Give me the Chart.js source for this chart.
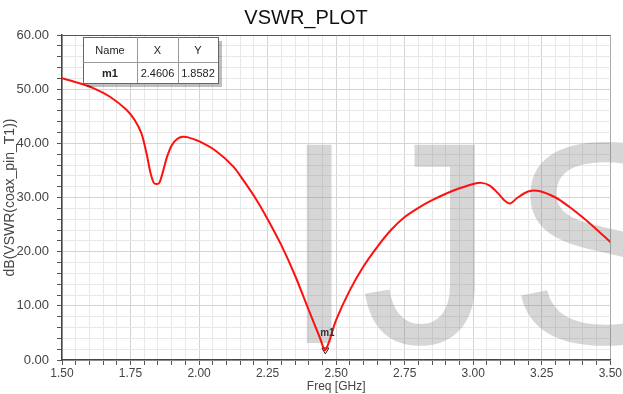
<!DOCTYPE html>
<html>
<head>
<meta charset="utf-8">
<script src="https://cdn.jsdelivr.net/npm/chart.js@4/dist/chart.umd.min.js"></script>
<style>
  html, body { margin: 0; padding: 0; background: #fff; }
  #wrap { width: 623px; height: 394px; }
</style>
</head>
<body>
<div id="wrap"><canvas id="myChart" width="623" height="394"></canvas></div>
<script>
// values
var freqGHz = [1.50, 1.55, 1.614, 1.675, 1.735, 1.765, 1.79, 1.808, 1.823, 1.835, 1.845, 1.855, 1.87, 1.883, 1.901, 1.92,
               1.94, 1.96, 2.003, 2.064, 2.125, 2.16, 2.209, 2.25, 2.30, 2.35, 2.40, 2.44, 2.4606, 2.50, 2.55, 2.60,
               2.65, 2.70, 2.75, 2.80, 2.85, 2.90, 2.95, 3.00, 3.03, 3.06, 3.09, 3.115, 3.135, 3.16, 3.20, 3.24,
               3.30, 3.35, 3.40, 3.45, 3.50];
var vswrDb  = [52.0, 51.3, 50.2, 48.6, 46.2, 44.3, 41.8, 38.2, 34.5, 32.7, 32.5, 32.7, 35.1, 37.5, 39.7, 40.8,
               41.2, 41.1, 40.3, 38.5, 35.7, 33.3, 29.6, 26.0, 21.2, 15.6, 9.2, 4.2, 1.86, 7.4, 12.9, 17.3,
               20.9, 24.0, 26.4, 28.1, 29.5, 30.7, 31.7, 32.5, 32.7, 32.2, 30.8, 29.4, 28.9, 29.9, 31.1, 31.2,
               30.0, 28.3, 26.3, 24.1, 21.8];

var markerName = 'm1';
var markerX = 2.4606;
var markerY = 1.8582;

var tableHead = ['Name', 'X', 'Y'];
var tableRow = [markerName, markerX.toFixed(4), markerY.toFixed(4)];

var points = [];
for (let i = 0; i < freqGHz.length; i++) {
    points.push({x: freqGHz[i], y: vswrDb[i]});
}

function isMajor(v, step){
    var r = v / step;
    return Math.abs(r - Math.round(r)) < 1e-6;
}

// draw one big letter so its ink spans left..right (right optional)
function bigLetter(ctx, ch, left, right, base){
    var m = ctx.measureText(ch);
    var w = m.actualBoundingBoxLeft + m.actualBoundingBoxRight;
    var sx = right ? (right - left) / w : 1;
    ctx.save();
    ctx.translate(left, base);
    ctx.scale(sx, 1);
    ctx.fillText(ch, m.actualBoundingBoxLeft, 0);
    ctx.restore();
}

// grey IJS watermark over the grid, under the curve
var watermark = {
    id: 'watermark',
    beforeDatasetsDraw: function(chart){
        var ctx = chart.ctx;
        ctx.save();
        ctx.font = "288px 'Liberation Sans', Arial, sans-serif";
        ctx.fillStyle = 'rgba(120,120,120,0.3)';
        ctx.textAlign = 'left';
        ctx.textBaseline = 'alphabetic';
        bigLetter(ctx, 'I', 303, 332, 343);
        bigLetter(ctx, 'J', 365, 478, 343);
        bigLetter(ctx, 'S', 517, 0, 343);
        ctx.restore();
    }
};

// marker label and marker table
var markerStuff = {
    id: 'markerStuff',
    afterDraw: function(chart){
        var ctx = chart.ctx;
        var xs = chart.scales.x, ys = chart.scales.y;
        var px = xs.getPixelForValue(markerX);
        var py = ys.getPixelForValue(markerY);
        ctx.save();
        ctx.font = "bold 10px 'Liberation Sans', Arial, sans-serif";
        ctx.fillStyle = '#333';
        ctx.textAlign = 'center';
        ctx.textBaseline = 'bottom';
        ctx.fillText(markerName, px + 2, py - 12);

        // table
        var left = 83, top = 37;
        var colW = [54, 41, 40];
        var rowH = [25, 21];
        var w = colW[0] + colW[1] + colW[2];
        var h = rowH[0] + rowH[1];
        ctx.fillStyle = 'rgba(0,0,0,0.25)';
        ctx.fillRect(left + 4, top + 4, w, h);
        ctx.fillStyle = '#fff';
        ctx.fillRect(left, top, w, h);
        ctx.strokeStyle = '#666';
        ctx.lineWidth = 1;
        ctx.strokeRect(left + 0.5, top + 0.5, w, h);
        ctx.strokeStyle = '#999';
        ctx.beginPath();
        ctx.moveTo(left, top + rowH[0] + 0.5);
        ctx.lineTo(left + w, top + rowH[0] + 0.5);
        var cx = left;
        for (let i = 0; i < 2; i++) {
            cx += colW[i];
            ctx.moveTo(cx + 0.5, top);
            ctx.lineTo(cx + 0.5, top + h);
        }
        ctx.stroke();

        ctx.textBaseline = 'middle';
        ctx.fillStyle = '#222';
        cx = left;
        for (let i = 0; i < 3; i++) {
            ctx.font = "11px 'Liberation Sans', Arial, sans-serif";
            ctx.fillText(tableHead[i], cx + colW[i] / 2, top + rowH[0] / 2 + 1);
            ctx.font = (i == 0 ? 'bold ' : '') + "11px 'Liberation Sans', Arial, sans-serif";
            ctx.fillText(tableRow[i], cx + colW[i] / 2, top + rowH[0] + rowH[1] / 2 + 1);
            cx += colW[i];
        }
        ctx.restore();
    }
};

var ctx = document.getElementById('myChart').getContext('2d');
var chart = new Chart(ctx, {
    type: 'line',
    data: {
        datasets: [{
            label: 'dB(VSWR(coax_pin_T1))',
            data: points,
            borderColor: '#ff1010',
            borderWidth: 2,
            pointRadius: 0,
            tension: 0.3,
            fill: false
        },{
            label: markerName,
            data: [{x: markerX, y: markerY}],
            showLine: false,
            pointStyle: 'triangle',
            rotation: 180,
            pointRadius: 4,
            borderColor: '#222',
            borderWidth: 1,
            backgroundColor: 'rgba(0,0,0,0)'
        }]
    },
    options: {
        responsive: false,
        animation: false,
        layout: { padding: { left: 0, right: 11, top: 0, bottom: 0 } },
        plugins: {
            legend: { display: false },
            tooltip: { enabled: false },
            title: {
                display: true,
                text: 'VSWR_PLOT',
                color: '#111',
                font: { family: "'Liberation Sans', Arial, sans-serif", size: 20, weight: 'normal' },
                padding: { top: 6, bottom: 5 }
            }
        },
        scales: {
            x: {
                type: 'linear',
                min: 1.5,
                max: 3.5,
                afterFit: function(s){ s.height = 34; },
                ticks: {
                    stepSize: 0.05,
                    autoSkip: false,
                    maxRotation: 0,
                    padding: 1,
                    color: '#444',
                    font: { family: "'Liberation Sans', Arial, sans-serif", size: 12 },
                    callback: function(v){ return isMajor(v, 0.25) ? v.toFixed(2) : ''; }
                },
                grid: {
                    tickLength: 5,
                    tickColor: '#555',
                    color: function(c){
                        var v = c.tick ? c.tick.value : 0;
                        if (Math.abs(v - 3.5) < 1e-6) return '#aaa';
                        return isMajor(v, 0.25) ? '#d4d4d4' : '#e8e8e8';
                    }
                },
                border: { display: true, color: '#444', width: 1.5 },
                title: {
                    display: true,
                    text: 'Freq [GHz]',
                    color: '#444',
                    padding: { top: 0, bottom: 0 },
                    font: { family: "'Liberation Sans', Arial, sans-serif", size: 12 }
                }
            },
            y: {
                min: 0,
                max: 60,
                afterFit: function(s){ s.width = 62; },
                ticks: {
                    stepSize: 2,
                    autoSkip: false,
                    padding: 8,
                    color: '#444',
                    font: { family: "'Liberation Sans', Arial, sans-serif", size: 13 },
                    callback: function(v){ return isMajor(v, 10) ? v.toFixed(2) : ''; }
                },
                grid: {
                    tickLength: 5,
                    tickColor: '#555',
                    color: function(c){
                        var v = c.tick ? c.tick.value : 0;
                        if (v == 60) return '#555';
                        return isMajor(v, 10) ? '#d4d4d4' : '#e8e8e8';
                    }
                },
                border: { display: true, color: '#444', width: 1.5 },
                title: {
                    display: true,
                    text: 'dB(VSWR(coax_pin_T1))',
                    color: '#444',
                    padding: { top: 2, bottom: 0 },
                    font: { family: "'Liberation Sans', Arial, sans-serif", size: 14 }
                }
            }
        }
    },
    plugins: [watermark, markerStuff]
});
</script>
</body>
</html>
